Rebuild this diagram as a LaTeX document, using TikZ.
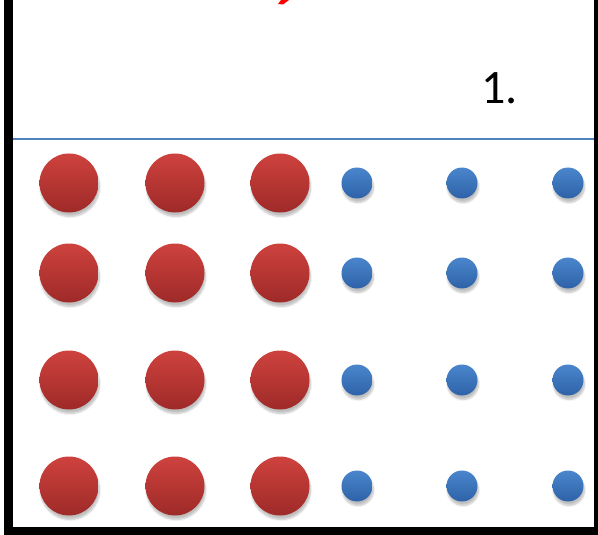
\documentclass[tikz,border=0pt]{standalone}
\usepackage{fontspec}
\setmainfont{Carlito}
\usetikzlibrary{shadows.blur}

\definecolor{redtop}{RGB}{206,66,62}
\definecolor{redbot}{RGB}{158,42,40}
\definecolor{bluetop}{RGB}{74,134,204}
\definecolor{bluebot}{RGB}{46,98,168}
\definecolor{levelblue}{RGB}{79,129,189}
\definecolor{markred}{RGB}{255,0,0}

\tikzset{
  ball/.style={circle, inner sep=0pt, draw=none,
               blur shadow={shadow xshift=1pt, shadow yshift=-4pt,
                            shadow blur steps=6, shadow opacity=25}},
  bigball/.style={ball, minimum size=59pt, top color=redtop, bottom color=redbot},
  smallball/.style={ball, minimum size=31pt, top color=bluetop, bottom color=bluebot},
  wall/.style={fill=black},
}

\begin{document}
\begin{tikzpicture}[x=1pt, y=-1pt]
  \useasboundingbox (0,0) rectangle (598,535);

  % container
  \fill[wall] (4,0) rectangle (13,535);
  \fill[wall] (4,527) rectangle (598,535);
  \fill[wall] (594,0) rectangle (598,535);

  % red mark at the top edge
  \fill[markred] (281,0) -- (289,0) -- (283,4.5) -- (278,4) -- cycle;

  % liquid level
  \coordinate (level-l) at (13,139);
  \coordinate (level-r) at (594,139);
  \draw[levelblue, line width=1.5pt] (level-l) -- (level-r);

  \node[anchor=base west, inner sep=0pt, font=\fontsize{48}{48}\selectfont] (step-label) at (481,103) {1.};

  % particles
  \foreach \y [count=\r] in {183,273,380,486} {
    \foreach \x [count=\c] in {69,175,280}
      \node[bigball] (red-\r-\c) at (\x,\y) {};
    \foreach \x [count=\c] in {357,462,568}
      \node[smallball] (blue-\r-\c) at (\x,\y) {};
  }
\end{tikzpicture}
\end{document}
